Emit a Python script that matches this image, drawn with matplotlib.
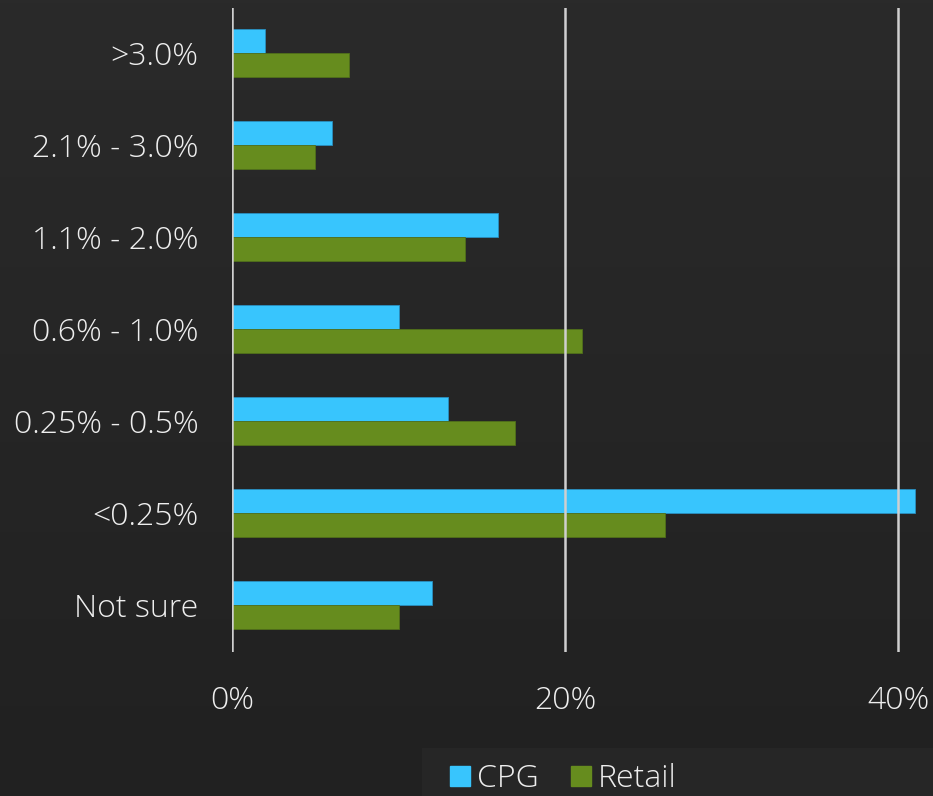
import numpy as np
import matplotlib.pyplot as plt
from matplotlib.lines import Line2D
from matplotlib.patches import Rectangle

categories = [">3.0%", "2.1% - 3.0%", "1.1% - 2.0%", "0.6% - 1.0%", "0.25% - 0.5%", "<0.25%", "Not sure"]
cpg = [2, 6, 16, 10, 13, 41, 12]
retail = [7, 5, 14, 21, 17, 26, 10]
xticks = [0, 20, 40]
xticklabels = ["0%", "20%", "40%"]

plt.rcParams['font.family'] = ['Open Sans', 'DejaVu Sans']

cpg_color = '#38c5fd'
retail_color = '#668c1e'
text_color = '#eeeeee'
grid_color = '#cfcfcf'

fig = plt.figure(figsize=(9.33, 7.96), dpi=100)
fig.patch.set_facecolor('#262626')

# subtle background gradient
bg = fig.add_axes([0, 0, 1, 1], zorder=-2)
grad = np.linspace(0, 1, 256).reshape(-1, 1)
bg.imshow(grad, aspect='auto', cmap=plt.matplotlib.colors.LinearSegmentedColormap.from_list(
    'bg', ['#2a2a2a', '#212121']), extent=[0, 1, 0, 1])
bg.axis('off')
fig.patches.append(Rectangle((422 / 933, 0), 1 - 422 / 933, 48 / 796, transform=fig.transFigure,
                             facecolor='#262626', edgecolor='none', zorder=-1))

ax = fig.add_axes([232 / 933, 144 / 796, 701 / 933, 644 / 796])
ax.set_facecolor('none')

y = np.arange(len(categories))
h = 0.26
ax.barh(y - h / 2, cpg, height=h, color=cpg_color, edgecolor='#2a8fc0', linewidth=0.6, zorder=2)
ax.barh(y + h / 2, retail, height=h, color=retail_color, edgecolor='#50701a', linewidth=0.6, zorder=2)

ax.set_xlim(0, 701 / 16.65)
ax.set_ylim(len(categories) - 0.49, -0.49)

for x in xticks:
    ax.axvline(x, color=grid_color, linewidth=1.8, zorder=3)

ax.set_xticks(xticks)
ax.set_xticklabels(xticklabels)
ax.set_yticks(y)
ax.set_yticklabels(categories)
ax.tick_params(axis='both', length=0, labelsize=23, labelcolor=text_color)
ax.tick_params(axis='y', pad=24)
ax.tick_params(axis='x', pad=24)
for lbl in ax.get_xticklabels() + ax.get_yticklabels():
    lbl.set_fontweight('light')
for s in ax.spines.values():
    s.set_visible(False)

handles = [Line2D([], [], marker='s', linestyle='none', markersize=15, color=cpg_color),
           Line2D([], [], marker='s', linestyle='none', markersize=15, color=retail_color)]
leg = fig.legend(handles, ["CPG", "Retail"], loc='center', bbox_to_anchor=(562 / 933, 17 / 796),
                 ncol=2, frameon=False, handletextpad=0.15, columnspacing=0.9, handlelength=0.8,
                 prop={'size': 23, 'weight': 'light'})
for t in leg.get_texts():
    t.set_color(text_color)

fig.savefig('out.png', dpi=100, facecolor=fig.get_facecolor())
